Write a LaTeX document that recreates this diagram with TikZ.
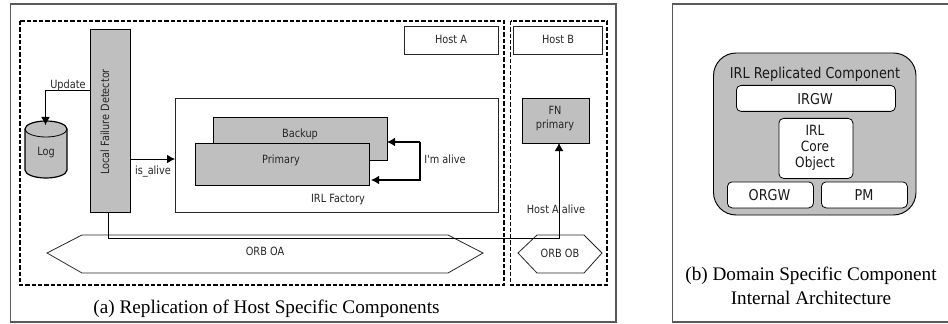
\documentclass[tikz,border=0pt]{standalone}
\usepackage{fontspec}
\setmainfont{Liberation Serif}
\newfontfamily\dia{DejaVu Sans}[FakeStretch=0.86]
\usetikzlibrary{arrows.meta,shapes.geometric}
\tikzset{
 x=0.75pt,y=-0.75pt,
 frame/.style={draw=black!65,line width=0.9pt},
 hostzone/.style={draw=black,line width=0.9pt,dash pattern=on 3.2pt off 1.5pt},
 plain/.style={draw=black!85,line width=0.6pt,fill=white},
 greybox/.style={draw=black,line width=0.6pt,fill=black!25},
 lab/.style={font=\dia\fontsize{8.5}{10.5}\selectfont,align=center,text=black!85,inner sep=0pt},
 comp/.style={font=\dia\fontsize{11.2}{11.8}\selectfont,align=center,text=black!90,inner sep=0pt},
 captiontext/.style={font=\fontsize{14.4}{18}\selectfont,align=center,inner sep=0pt},
 link/.style={draw=black,line width=0.6pt},
 tip/.style={-{Latex[length=6pt,width=6.5pt]}},
 innerbox/.style={draw=black,line width=0.6pt,fill=white,rounded corners=3.5pt},
}
\begin{document}
\begin{tikzpicture}
\useasboundingbox (0,0) rectangle (948,324);
\fill[white] (0,0) rectangle (948,324);
% frames
\draw[frame] (10.5,4) rectangle (616,322);
\draw[frame] (672.5,4) rectangle (952,322);
% zones
\draw[hostzone] (20,21) rectangle (504,285);
\draw[hostzone] (510.5,21) rectangle (607,285);
% hosts
\node[plain,minimum width=70.5pt,minimum height=21pt,anchor=north west] (hosta) at (404,26) {};
\node[lab] at (451,39) {Host A};
\node[plain,minimum width=66.75pt,minimum height=21pt,anchor=north west] (hostb) at (513,26) {};
\node[lab] at (558,39) {Host B};
% factory
\node[plain,minimum width=242.25pt,minimum height=85.5pt,anchor=north west] (factory) at (175,98) {};
\node[lab] at (338,200) {IRL Factory};
\node[greybox,minimum width=130.5pt,minimum height=32.25pt,anchor=north west] (backup) at (213,117) {};
\node[lab] at (300,134) {Backup};
\node[greybox,minimum width=130.9pt,minimum height=31.5pt,anchor=north west] (primary) at (194.5,143) {};
\node[lab] at (281,160) {Primary};
% LFD
\node[greybox,minimum width=30.4pt,minimum height=137.25pt,anchor=north west] (lfd) at (89.5,29) {};
\node[lab,rotate=90] at (105,122) {Local Failure Detector};
% log
\node[minimum width=31.5pt,minimum height=42.75pt,anchor=north west] (log) at (25,121) {};
\draw[draw=black,line width=0.9pt,fill=black!25] (25,129) arc[start angle=180,end angle=0,x radius=21,y radius=-8] -- (67,170) arc[start angle=0,end angle=-180,x radius=21,y radius=-8] -- cycle;
\draw[black,line width=0.6pt] (25,129) arc[start angle=180,end angle=360,x radius=21,y radius=-8];
\node[lab] at (46,153) {Log};
% FN
\node[greybox,minimum width=50.25pt,minimum height=33.75pt,anchor=north west] (fn) at (522,98) {};
\node[lab] at (555,119) {FN\\primary};
% ORBs
\draw[plain] (47,253) -- (82,235) -- (448,235) -- (483,253) -- (448,273) -- (82,273) -- cycle;
\node[lab] (orba) at (265,251) {ORB OA};
\draw[plain] (518,253) -- (537,235) -- (584,235) -- (602,253) -- (584,273) -- (537,273) -- cycle;
\node[lab] (orbb) at (560,253) {ORB OB};
% connectors
\coordinate (lfdbot) at (108,212);
\coordinate (fnbot) at (559,143);
\draw[link,tip] (lfdbot) -- (108,238) -- (559,238) -- (fnbot);
\coordinate (u1) at (89.5,90.5);
\coordinate (u2) at (45.5,125);
\draw[link,tip] (u1) -- (45.5,90.5) -- (u2);
\node[lab] at (68,85) {Update};
\coordinate (a1) at (130,159);
\coordinate (a2) at (175,159);
\draw[link,tip] (a1) -- (a2);
\node[lab] at (153,172) {is\_alive};
\coordinate (b1) at (387,142);
\coordinate (p1) at (371,180);
\draw[link,line width=0.9pt,tip] (420,142) -- (b1);
\draw[link,line width=0.9pt,tip] (420,142) -- (420,180) -- (p1);
\node[lab] at (445,159) {I'm alive};
\node[lab] at (556,209) {Host A alive};
% captions
\node[captiontext] at (266.5,309) {(a) Replication of Host Specific Components};
% right part
\draw[draw=black,line width=0.7pt,fill=black!25,rounded corners=17pt] (713.5,53) rectangle (916,215);
\node[comp] at (815,74) {IRL Replicated Component};
\node[innerbox,minimum width=119.25pt,minimum height=19.5pt,anchor=north west] (irgw) at (736,85) {};
\node[comp] at (815,99) {IRGW};
\node[innerbox,minimum width=55.5pt,minimum height=45pt,anchor=north west] (core) at (778.5,118) {};
\node[comp,font=\dia\fontsize{10.6}{11.8}\selectfont] at (815,148) {IRL\\Core\\Object};
\node[innerbox,minimum width=64.5pt,minimum height=19.5pt,anchor=north west] (orgw) at (727,181.5) {};
\node[comp] at (769.5,195) {ORGW};
\node[innerbox,minimum width=64.5pt,minimum height=19.5pt,anchor=north west] (pm) at (821,181.5) {};
\node[comp] at (864,195) {PM};
\node[captiontext] at (811,286) {(b) Domain Specific Component\\Internal Architecture};
\end{tikzpicture}
\end{document}
